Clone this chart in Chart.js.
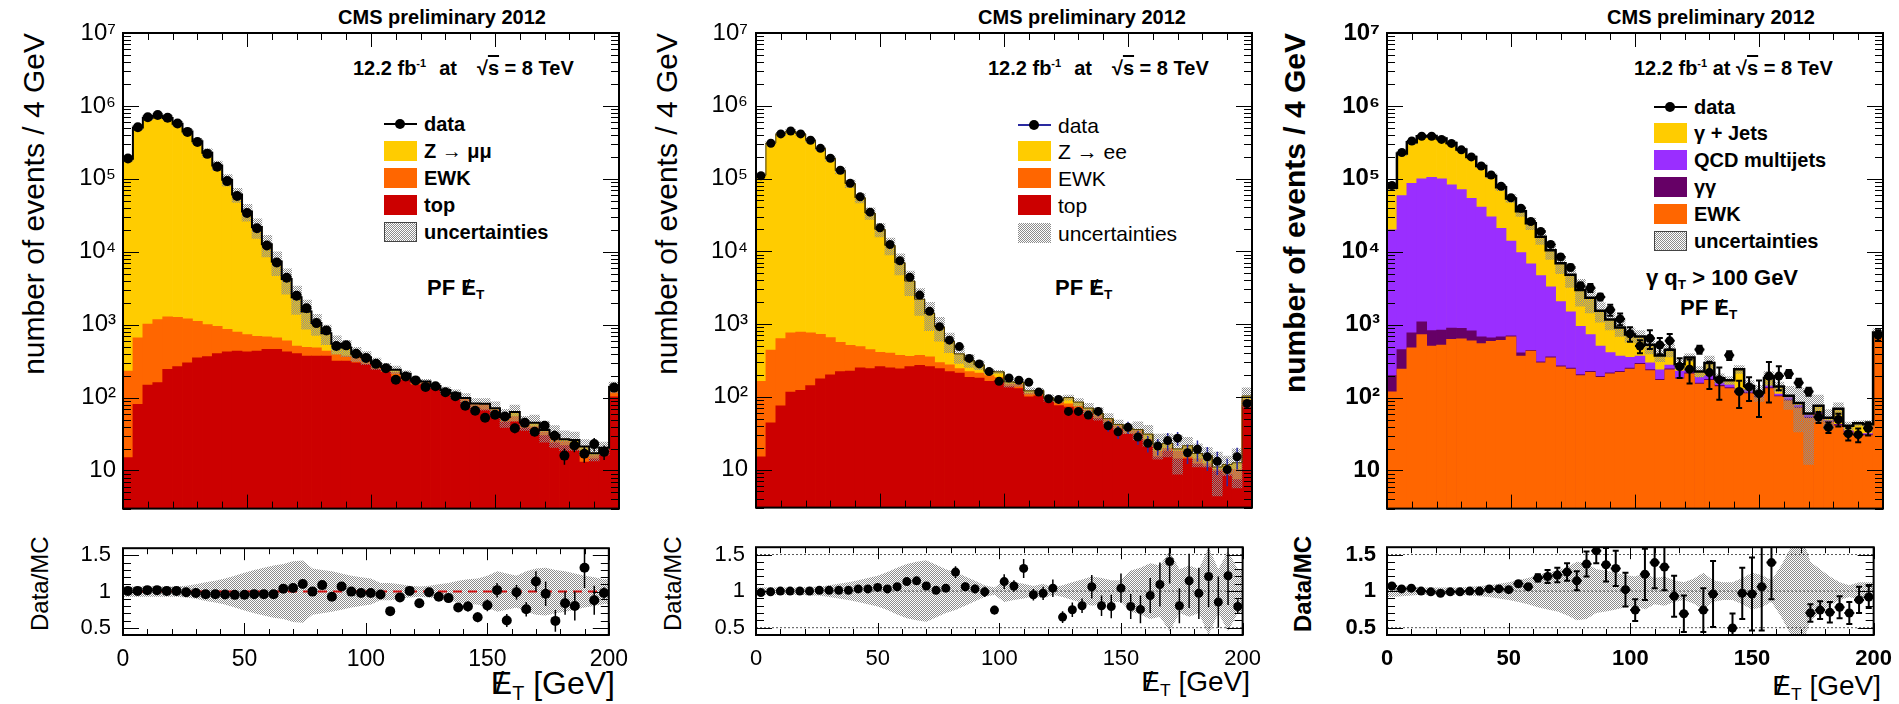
<!DOCTYPE html>
<html>
<head>
<meta charset="utf-8">
<title>PF MET: Z→μμ, Z→ee, γ+jets</title>
<script src="https://cdn.jsdelivr.net/npm/chart.js@4.4.1/dist/chart.umd.min.js"></script>
<style>
body{margin:0;background:#fff;width:1899px;height:704px;overflow:hidden;position:relative;font-family:"Liberation Sans",Arial,Helvetica,sans-serif;color:#000}
.clip{position:absolute;top:0;height:704px;overflow:hidden}
.clip canvas{position:absolute}
.t{position:absolute;white-space:nowrap;line-height:1}
.b{font-weight:bold}
.c{transform:translateX(-50%)}
.vt{position:absolute;writing-mode:vertical-rl;transform:rotate(180deg);white-space:nowrap;line-height:1;text-align:center}
.met{position:relative;display:inline-block}
.met:after{content:"/";position:absolute;left:.14em;top:0;font-weight:normal}
sub{font-size:.62em;vertical-align:-.3em;line-height:0}
sup{font-size:.55em;vertical-align:.75em;line-height:0}
.ov{text-decoration:overline}
.leg{position:absolute;height:20px;display:flex;align-items:center;white-space:nowrap;line-height:1}
.sw{width:33px;height:20px;margin-right:7px;box-sizing:border-box;flex:none}
.hatch{background:repeating-conic-gradient(#8c8c8c 0 25%,#ffffff 0 50%) 0 0/2px 2px}
.mk{width:33px;height:20px;margin-right:7px;position:relative;flex:none}
.mk:before{content:"";position:absolute;left:0;right:0;top:9px;height:2px;background:var(--lc,#000)}
.mk:after{content:"";position:absolute;left:11px;top:5px;width:10px;height:10px;border-radius:50%;background:#000}
</style>
</head>
<body>

<!-- panel 1 : Z -> mumu -->
<div class="t b c" style="left:442px;top:7px;font-size:20px">CMS preliminary 2012</div>
<div class="t b" style="left:353px;top:58px;font-size:20px">12.2 fb<sup>-1</sup><span style="margin-left:13px">at</span><span style="margin-left:20px">√<span class="ov">s</span> = 8 TeV</span></div>
<div class="leg b" style="left:384px;top:114px;font-size:20px"><div class="mk"></div>data</div>
<div class="leg b" style="left:384px;top:141px;font-size:20px"><div class="sw" style="background:#ffcc00"></div>Z → μμ</div>
<div class="leg b" style="left:384px;top:168px;font-size:20px"><div class="sw" style="background:#ff6600"></div>EWK</div>
<div class="leg b" style="left:384px;top:195px;font-size:20px"><div class="sw" style="background:#cc0000"></div>top</div>
<div class="leg b" style="left:384px;top:222px;font-size:20px"><div class="sw hatch" style="border:1px solid #444"></div>uncertainties</div>
<div class="t b" style="left:427px;top:277px;font-size:22px">PF <span class="met">E</span><sub>T</sub></div>
<div class="vt" style="left:19px;top:33px;font-size:30px">number of events / 4 GeV</div>
<div class="vt" style="left:28px;top:533px;height:102px;font-size:24px">Data/MC</div>
<div class="t" style="right:1284px;top:667px;font-size:32px"><span class="met">E</span><sub>T</sub> [GeV]</div>

<!-- panel 2 : Z -> ee -->
<div class="t b c" style="left:1082px;top:7px;font-size:20px">CMS preliminary 2012</div>
<div class="t b" style="left:988px;top:58px;font-size:20px">12.2 fb<sup>-1</sup><span style="margin-left:13px">at</span><span style="margin-left:20px">√<span class="ov">s</span> = 8 TeV</span></div>
<div class="leg" style="left:1018px;top:115px;font-size:21px"><div class="mk" style="--lc:#2a2aa0"></div>data</div>
<div class="leg" style="left:1018px;top:141px;font-size:21px"><div class="sw" style="background:#ffcc00"></div>Z → ee</div>
<div class="leg" style="left:1018px;top:168px;font-size:21px"><div class="sw" style="background:#ff6600"></div>EWK</div>
<div class="leg" style="left:1018px;top:195px;font-size:21px"><div class="sw" style="background:#cc0000"></div>top</div>
<div class="leg" style="left:1018px;top:223px;font-size:21px"><div class="sw hatch"></div>uncertainties</div>
<div class="t b" style="left:1055px;top:277px;font-size:22px">PF <span class="met">E</span><sub>T</sub></div>
<div class="vt" style="left:652px;top:33px;font-size:30px">number of events / 4 GeV</div>
<div class="vt" style="left:661px;top:533px;height:102px;font-size:24px">Data/MC</div>
<div class="t" style="right:649px;top:668px;font-size:28px"><span class="met">E</span><sub>T</sub> [GeV]</div>

<!-- panel 3 : gamma + jets -->
<div class="t b c" style="left:1711px;top:7px;font-size:20px">CMS preliminary 2012</div>
<div class="t b" style="left:1634px;top:58px;font-size:20px">12.2 fb<sup>-1</sup> at √<span class="ov">s</span> = 8 TeV</div>
<div class="leg b" style="left:1654px;top:97px;font-size:20px"><div class="mk"></div>data</div>
<div class="leg b" style="left:1654px;top:123px;font-size:20px"><div class="sw" style="background:#ffcc00"></div>γ + Jets</div>
<div class="leg b" style="left:1654px;top:150px;font-size:20px"><div class="sw" style="background:#9a2eff"></div>QCD multijets</div>
<div class="leg b" style="left:1654px;top:177px;font-size:20px"><div class="sw" style="background:#660066"></div>γγ</div>
<div class="leg b" style="left:1654px;top:204px;font-size:20px"><div class="sw" style="background:#ff6600"></div>EWK</div>
<div class="leg b" style="left:1654px;top:231px;font-size:20px"><div class="sw hatch" style="border:1px solid #444"></div>uncertainties</div>
<div class="t b" style="left:1646px;top:267px;font-size:22px">γ q<sub>T</sub> &gt; 100 GeV</div>
<div class="t b" style="left:1680px;top:297px;font-size:22px">PF <span class="met">E</span><sub>T</sub></div>
<div class="vt b" style="left:1280px;top:33px;font-size:30px">number of events / 4 GeV</div>
<div class="vt b" style="left:1291px;top:533px;height:102px;font-size:24px">Data/MC</div>
<div class="t" style="right:18px;top:672px;font-size:28px"><span class="met">E</span><sub>T</sub> [GeV]</div>

<script>
// --- binning and axis ticks ---
const binCenters = [2,6,10,14,18,22,26,30,34,38,42,46,50,54,58,62,66,70,74,78,82,86,90,94,98,
                    102,106,110,114,118,122,126,130,134,138,142,146,150,154,158,162,166,170,174,178,182,186,190,194,198];
const binWidth = 4;
const mainTicks = [10, 100, 1e3, 1e4, 1e5, 1e6, 1e7];
const mainTickLabels = ['10', '10²', '10³', '10⁴', '10⁵', '10⁶', '10⁷'];
const ratioTicks = [0.5, 1, 1.5];
const ratioTickLabels = ['0.5', '1', '1.5'];
const xTicks = [0, 50, 100, 150, 200];
const refLines = [0.5, 1, 1.5];

// --- Z -> mumu ---
const p1Data = [1.9e5,5.1e5,7.0e5,7.5e5,6.9e5,5.75e5,4.4e5,3.2e5,2.2e5,1.47e5,
                9.3e4,5.8e4,3.4e4,2.1e4,1.22e4,7100,4400,2500,1680,1050,
                830,510,520,400,350,290,252,176,195,172,
                140,143,118,104,77,66,53,58,55,38,
                45,34,41,30,16,22,17,23,18,137];
const p1Ratio = [1.01,1.01,1.02,1.02,1.01,1.01,0.99,0.98,0.965,0.965,
                 0.96,0.955,0.957,0.965,0.965,0.965,1.04,1.05,1.105,1.0,
                 1.09,0.93,1.07,1.0,0.98,0.98,0.96,0.73,0.92,1.01,
                 0.84,0.99,0.93,0.91,0.78,0.795,0.645,0.81,1.02,0.6,
                 0.99,0.755,1.14,0.97,0.595,0.84,0.80,1.33,0.88,0.98];
const p1RatioErr = [0.01,0.01,0.01,0.01,0.01,0.01,0.01,0.01,0.01,0.01,
                    0.01,0.01,0.01,0.01,0.01,0.01,0.01,0.01,0.01,0.01,
                    0.015,0.02,0.02,0.025,0.025,0.03,0.03,0.04,0.04,0.06,
                    0.05,0.05,0.06,0.06,0.06,0.07,0.07,0.08,0.1,0.09,
                    0.1,0.1,0.14,0.17,0.15,0.16,0.2,0.28,0.2,0.08];
const p1Unc = [0.07,0.07,0.07,0.07,0.07,0.07,0.08,0.10,0.13,0.15,
               0.18,0.22,0.26,0.30,0.33,0.36,0.38,0.42,0.43,0.32,
               0.30,0.28,0.25,0.22,0.20,0.18,0.12,0.12,0.10,0.08,
               0.07,0.08,0.10,0.12,0.15,0.17,0.18,0.22,0.28,0.25,
               0.22,0.28,0.32,0.33,0.30,0.28,0.25,0.22,0.20,0.17];
const p1Top = [15,81,148,160,243,266,300,350,365,400,
               425,435,425,435,460,460,425,400,370,370,
               370,316,316,300,285,245,222,190,172,150,
               153,132,112,100,86,72,68,62,46,47,
               38,35,30,24,22,19,13,14.5,17,102];
const p1TopEwk = [230,660,1020,1170,1280,1260,1200,1110,1000,950,
                  860,790,730,690,680,660,600,510,490,480,
                  435,390,370,355,340,275,245,222,205,165,
                  164,140,122,108,95,80,80,68,51,55,
                  43,40,34,28,25,23,16,16,19,120];

// --- Z -> ee ---
const p2Data = [1.09e5,3.05e5,4.1e5,4.5e5,4.1e5,3.36e5,2.6e5,1.9e5,1.3e5,8.6e4,
                5.6e4,3.45e4,2.1e4,1.24e4,7400,4400,2500,1500,920,600,
                490,337,283,222,163,181,169,158,116,94,
                92,63,63,56,63,40,33,38,28,23,
                21,25,27,17,19,15,13,10,15,81];
const p2Ratio = [0.98,0.99,1.0,1.0,1.0,1.0,1.01,1.01,1.01,1.01,
                 1.03,1.03,1.05,1.03,1.06,1.13,1.14,1.07,1.01,1.04,
                 1.26,1.06,1.03,0.99,0.74,1.13,1.07,1.31,0.95,0.97,
                 1.04,0.645,0.745,0.80,1.06,0.80,0.79,1.04,0.79,0.75,
                 0.94,1.09,1.405,0.80,1.14,0.97,1.2,0.85,1.21,0.79];
const p2RatioErr = [0.01,0.01,0.01,0.01,0.01,0.01,0.01,0.01,0.01,0.01,
                    0.01,0.01,0.01,0.01,0.01,0.02,0.02,0.03,0.03,0.04,
                    0.08,0.06,0.06,0.07,0.06,0.1,0.08,0.13,0.08,0.09,
                    0.12,0.08,0.1,0.1,0.16,0.14,0.16,0.2,0.17,0.19,
                    0.24,0.3,0.3,0.24,0.37,0.35,0.42,0.35,0.4,0.1];
const p2Unc = [0.05,0.05,0.05,0.05,0.05,0.06,0.06,0.08,0.10,0.12,
               0.15,0.18,0.21,0.26,0.32,0.37,0.40,0.42,0.36,0.30,
               0.26,0.20,0.14,0.08,0.05,0.15,0.12,0.10,0.07,0.10,
               0.05,0.08,0.12,0.16,0.20,0.18,0.15,0.15,0.28,0.32,
               0.38,0.35,0.55,0.30,0.35,0.30,0.60,0.30,0.55,0.30];
const p2Top = [15,44,75,116,123,143,176,200,222,225,
               251,245,260,250,243,260,270,260,245,222,
               211,185,181,163,167,138,130,100,103,86,
               76,72,66,58,50,43,36,31,30,21,
               15,18,14,14,12,11,9.5,8.5,7.3,75];
const p2TopEwk = [163,437,630,760,775,760,720,650,560,510,
                  490,445,408,400,370,360,370,355,295,275,
                  245,222,211,195,185,150,148,112,116,94,
                  84,80,74,65,55,48,40,34,34,26,
                  18,19.5,18,15,14,12,10,10,10,90];

// --- gamma + jets ---
const p3Data = [8.1e4,2.3e5,3.3e5,3.84e5,3.84e5,3.47e5,3.06e5,2.5e5,2.0e5,1.5e5,
                1.13e5,7.9e4,5.5e4,3.95e4,2.6e4,1.9e4,1.26e4,8500,6100,3400,
                3200,2400,1600,1200,750,510,650,525,600,266,
                245,455,220,176,380,121,140,113,197,197,
                212,160,121,54,39,50,32,31,38,720];
const p3Ratio = [1.07,1.03,1.04,1.0,0.99,0.97,0.99,0.99,1.0,1.0,
                 1.03,1.03,1.02,1.1,1.06,1.18,1.2,1.22,1.26,1.14,
                 1.37,1.55,1.36,1.31,1.02,0.74,1.23,1.39,1.33,0.93,
                 0.69,2.0,0.74,0.96,2.2,0.495,0.97,0.96,1.06,1.39,
                 2.0,1.9,2.0,0.70,0.74,0.71,0.78,0.70,0.88,0.92];
const p3RatioErr = [0.015,0.015,0.015,0.015,0.015,0.015,0.015,0.015,0.015,0.015,
                    0.015,0.015,0.015,0.03,0.03,0.05,0.09,0.1,0.12,0.13,
                    0.17,0.17,0.23,0.24,0.23,0.15,0.35,0.35,0.32,0.28,
                    0.25,0.25,0.3,0.45,0.3,0.2,0.35,0.5,0.6,0.5,
                    0.25,0.25,0.25,0.12,0.12,0.14,0.15,0.15,0.18,0.15];
const p3Unc = [0.08,0.07,0.06,0.05,0.05,0.05,0.05,0.05,0.06,0.07,
               0.08,0.10,0.12,0.15,0.18,0.22,0.25,0.28,0.33,0.40,
               0.38,0.30,0.28,0.25,0.22,0.20,0.25,0.18,0.20,0.15,
               0.12,0.17,0.25,0.15,0.12,0.12,0.18,0.25,0.22,0.15,
               0.35,0.60,0.80,0.40,0.30,0.20,0.12,0.08,0.12,0.12];
const p3Ewk = [120,245,480,730,510,525,630,640,600,550,
               590,610,680,370,435,300,350,263,245,200,
               222,190,211,222,245,285,235,172,240,180,
               211,153,172,142,133,113,113,100,133,103,
               90,72,52,59,46,41,33,30,30,730];
const p3EwkGg = [200,455,775,1090,830,840,900,890,820,680,
                 660,680,700,410,445,310,362,272,253,207,
                 229,196,218,229,253,294,242,178,247,186,
                 218,158,178,147,137,117,117,103,137,106,
                 93,74,54,61,47.5,42.5,34,31,31,745];
const p3EwkGgQcd = [2.0e4,5.9e4,8.7e4,1.0e5,1.05e5,1.0e5,8.3e4,7.1e4,5.4e4,4.1e4,
                    3.0e4,2.1e4,1.4e4,9700,6800,4700,3300,2070,1500,950,
                    730,510,415,370,355,370,300,240,280,230,
                    240,190,200,160,150,128,125,110,145,112,
                    100,78,58,62,48,43,35,31,32,760];

const YELLOW = '#ffcc00', ORANGE = '#ff6600', RED = '#cc0000', PURPLE = '#9a2eff', DPURPLE = '#660066';

Chart.defaults.font.family = '"Liberation Sans", Arial, Helvetica, sans-serif';
Chart.defaults.color = '#000';

// tick marks inside the frame + the frame itself
const framePlugin = {
  id: 'frame',
  afterDatasetsDraw(chart, args, o) {
    const { ctx, chartArea: a } = chart;
    const x = chart.scales.x, y = chart.scales.y;
    ctx.save();
    ctx.strokeStyle = '#000';
    ctx.lineWidth = 1;
    ctx.beginPath();
    for (let v = x.min; v <= x.max + 1e-9; v += o.xStep) {
      const px = Math.round(x.getPixelForValue(v)) + 0.5;
      const len = Math.abs(v % o.xMajor) < 1e-9 ? o.xMaj : o.xMin;
      ctx.moveTo(px, a.bottom); ctx.lineTo(px, a.bottom - len);
      ctx.moveTo(px, a.top); ctx.lineTo(px, a.top + len);
    }
    const yt = [];
    if (o.log) {
      for (let e = Math.floor(Math.log10(y.min)); e <= Math.ceil(Math.log10(y.max)); e++)
        for (let m = 1; m < 10; m++) {
          const v = m * Math.pow(10, e);
          if (v >= y.min && v <= y.max) yt.push([v, m === 1]);
        }
    } else {
      for (let k = Math.ceil(y.min / o.yStep - 1e-9); k * o.yStep <= y.max + 1e-9; k++) {
        const v = k * o.yStep, r = v / o.yMajor;
        yt.push([v, Math.abs(r - Math.round(r)) < 1e-6]);
      }
    }
    yt.forEach(([v, major]) => {
      const py = Math.round(y.getPixelForValue(v)) + 0.5;
      const len = major ? o.yMaj : o.yMin;
      ctx.moveTo(a.left, py); ctx.lineTo(a.left + len, py);
      ctx.moveTo(a.right, py); ctx.lineTo(a.right - len, py);
    });
    ctx.stroke();
    ctx.lineWidth = o.lw;
    ctx.strokeRect(a.left, a.top, a.right - a.left, a.bottom - a.top);
    ctx.restore();
  }
};
Chart.register(framePlugin);

function hatchPattern() {
  const c = document.createElement('canvas');
  c.width = c.height = 2;
  const g = c.getContext('2d');
  g.fillStyle = '#8c8c8c';
  g.fillRect(0, 0, 1, 1);
  g.fillRect(1, 1, 1, 1);
  return g.createPattern(c, 'repeat');
}
const hatch = hatchPattern();

function canvasAt(parent, left, top, w, h) {
  const c = document.createElement('canvas');
  c.width = w; c.height = h;
  c.style.cssText = `left:${left}px;top:${top}px;width:${w}px;height:${h}px`;
  parent.appendChild(c);
  return c;
}

const panels = [
  { left: 123, right: 619, clipL: 0, clipR: 632, data: p1Data, ratio: p1Ratio, ratioErr: p1RatioErr, unc: p1Unc,
    layers: [[p1Top, RED], [p1TopEwk, ORANGE], ['total', YELLOW]],
    bold: false, outline: ['#000', 2], err: '#000', rErr: '#000', errW: 1.5, dot: 5, rDot: 5, ref: 'red',
    xerr: false, yPad: 7, rPad: 12, xSize: 23 },
  { left: 756, right: 1252, clipL: 632, clipR: 1262, data: p2Data, ratio: p2Ratio, ratioErr: p2RatioErr, unc: p2Unc,
    layers: [[p2Top, RED], [p2TopEwk, ORANGE], ['total', YELLOW]],
    bold: false, outline: ['#4a3a00', 1], err: '#2a2aa0', rErr: '#000', errW: 1.5, dot: 4.5, rDot: 4.5, ref: 'dots',
    xerr: false, yPad: 8, rPad: 11, xSize: 22 },
  { left: 1387, right: 1883, clipL: 1262, clipR: 1899, data: p3Data, ratio: p3Ratio, ratioErr: p3RatioErr, unc: p3Unc,
    layers: [[p3Ewk, ORANGE], [p3EwkGg, DPURPLE], [p3EwkGgQcd, PURPLE], ['total', YELLOW]],
    bold: true, outline: ['#000', 2.5], err: '#000', rErr: '#000', errW: 2, dot: 4.5, rDot: 4.5, ref: 'dots',
    xerr: true, yPad: 7, rPad: 11, xSize: 22 }
];

function markerSets(pts, lo, hi, color) {
  // horizontal bin-width bars and error-bar caps
  const hb = { type: 'line', data: pts, showLine: false, pointStyle: 'line', pointRadius: 5,
               pointBorderWidth: 2, pointBorderColor: color, borderColor: color };
  const capLo = { type: 'line', data: lo, showLine: false, pointStyle: 'line', pointRadius: 3,
                  pointBorderWidth: 2, pointBorderColor: color, borderColor: color };
  const capHi = Object.assign({}, capLo, { data: hi });
  return [hb, capLo, capHi];
}

function buildPanel(p) {
  const total = p.data.map((d, i) => d / p.ratio[i]); // MC sum = data / (data/MC)
  const wrap = document.createElement('div');
  wrap.className = 'clip';
  wrap.style.left = p.clipL + 'px';
  wrap.style.width = (p.clipR - p.clipL) + 'px';
  document.body.appendChild(wrap);

  const yW = 110, padR = 20, w = yW + (p.right - p.left) + padR;
  const weight = p.bold ? 'bold' : 'normal';
  const common = { responsive: false, animation: false, events: [], devicePixelRatio: 1 };

  // ---------- main (log) histogram ----------
  const pts = binCenters.map((x, i) => ({ x, y: p.data[i] }));
  const eLo = binCenters.map((x, i) => ({ x, y: p.data[i] - total[i] * p.ratioErr[i] }));
  const eHi = binCenters.map((x, i) => ({ x, y: p.data[i] + total[i] * p.ratioErr[i] }));
  const errs = binCenters.map((x, i) => ({ x, y: [eLo[i].y, eHi[i].y] }));
  const band = binCenters.map((x, i) => ({ x, y: [total[i] * (1 - p.unc[i]), total[i] * (1 + p.unc[i])] }));
  const outline = [];
  binCenters.forEach((x, i) => outline.push({ x: x - binWidth / 2, y: total[i] }, { x: x + binWidth / 2, y: total[i] }));

  const mainSets = [{ type: 'line', data: pts, showLine: false, pointRadius: p.dot, pointBorderWidth: 0,
                      pointBackgroundColor: '#000', borderColor: '#000', clip: 6 }];
  if (p.xerr) mainSets.push(...markerSets(pts, eLo, eHi, '#000'));
  mainSets.push({ type: 'bar', data: errs, backgroundColor: p.err, grouped: false, maxBarThickness: p.errW, inflateAmount: 0 });
  mainSets.push({ type: 'line', data: outline, borderColor: p.outline[0], borderWidth: p.outline[1], pointRadius: 0, fill: false });
  mainSets.push({ type: 'bar', data: band, backgroundColor: hatch, grouped: false, barPercentage: 1, categoryPercentage: 1 });
  p.layers.forEach(([arr, color]) => {
    const lv = arr === 'total' ? total : arr;
    mainSets.push({ type: 'bar', data: binCenters.map((x, i) => ({ x, y: lv[i] })), backgroundColor: color,
                    grouped: false, barPercentage: 1, categoryPercentage: 1 });
  });

  new Chart(canvasAt(wrap, p.left - yW - p.clipL, 0, w, 530), {
    type: 'bar',
    data: { datasets: mainSets },
    options: Object.assign({}, common, {
      layout: { autoPadding: false, padding: { left: 0, top: 33, right: padR, bottom: 6 } },
      plugins: { legend: { display: false }, tooltip: { enabled: false },
                 frame: { log: true, xStep: 10, xMajor: 50, xMaj: 14, xMin: 7, yMaj: 16, yMin: 8, lw: 2 } },
      scales: {
        x: { type: 'linear', min: 0, max: 200, offset: false, display: false },
        y: { type: 'logarithmic', min: 3, max: 1e7,
             afterFit: s => { s.width = yW; },
             afterBuildTicks: s => { s.ticks = mainTicks.map(v => ({ value: v })); },
             ticks: { autoSkip: false, padding: p.yPad, color: '#000', font: { size: 24, weight },
                      callback: (v, i) => mainTickLabels[i] },
             grid: { display: false, drawTicks: false }, border: { display: false } }
      }
    })
  });

  // ---------- Data/MC ratio ----------
  const rpts = binCenters.map((x, i) => ({ x, y: p.ratio[i] }));
  const rLo = binCenters.map((x, i) => ({ x, y: p.ratio[i] - p.ratioErr[i] }));
  const rHi = binCenters.map((x, i) => ({ x, y: p.ratio[i] + p.ratioErr[i] }));
  const rerr = binCenters.map((x, i) => ({ x, y: [rLo[i].y, rHi[i].y] }));
  const n = binCenters.length;
  const up = [{ x: 0, y: 1 + p.unc[0] }, ...binCenters.map((x, i) => ({ x, y: 1 + p.unc[i] })), { x: 200, y: 1 + p.unc[n - 1] }];
  const dn = [{ x: 0, y: 1 - p.unc[0] }, ...binCenters.map((x, i) => ({ x, y: 1 - p.unc[i] })), { x: 200, y: 1 - p.unc[n - 1] }];

  const rSets = [{ type: 'line', data: rpts, showLine: false, pointRadius: p.rDot, pointBorderWidth: 0,
                   pointBackgroundColor: '#000', borderColor: '#000', clip: 0 }];
  if (p.xerr) markerSets(rpts, rLo, rHi, '#000').forEach(d => rSets.push(Object.assign(d, { clip: 0 })));
  rSets.push({ type: 'bar', data: rerr, backgroundColor: p.rErr, grouped: false, maxBarThickness: p.errW, inflateAmount: 0 });
  if (p.ref === 'red') {
    rSets.push({ type: 'line', data: [{ x: 0, y: 1 }, { x: 200, y: 1 }], borderColor: '#d01010', borderWidth: 2,
                 borderDash: [9, 6], pointRadius: 0, fill: false });
  } else {
    refLines.forEach(v => rSets.push({ type: 'line', data: [{ x: 0, y: v }, { x: 200, y: v }], borderColor: '#555',
                 borderWidth: 1, borderDash: [2, 2], pointRadius: 0, fill: false }));
  }
  rSets.push({ type: 'line', data: up, borderWidth: 0, pointRadius: 0, backgroundColor: hatch, fill: '+1', tension: 0 });
  rSets.push({ type: 'line', data: dn, borderWidth: 0, pointRadius: 0, fill: false, tension: 0 });

  new Chart(canvasAt(wrap, p.left - yW - p.clipL, 523, w, 162), {
    type: 'bar',
    data: { datasets: rSets },
    options: Object.assign({}, common, {
      layout: { autoPadding: false, padding: { left: 0, top: 10, right: padR, bottom: 0 } },
      plugins: { legend: { display: false }, tooltip: { enabled: false },
                 frame: { log: false, yStep: 0.1, yMajor: 0.5, xStep: 10, xMajor: 50, xMaj: 12, xMin: 6, yMaj: 16, yMin: 8, lw: 2 } },
      scales: {
        x: { type: 'linear', min: 0, max: 200, offset: false,
             afterFit: s => { s.height = 50; },
             afterBuildTicks: s => { s.ticks = xTicks.map(v => ({ value: v })); },
             ticks: { autoSkip: false, maxRotation: 0, padding: 11, color: '#000', font: { size: p.xSize, weight },
                      callback: v => String(v) },
             grid: { display: false, drawTicks: false }, border: { display: false } },
        y: { type: 'linear', min: 0.4, max: 1.6,
             afterFit: s => { s.width = yW; },
             afterBuildTicks: s => { s.ticks = ratioTicks.map(v => ({ value: v })); },
             ticks: { autoSkip: false, padding: p.rPad, color: '#000', font: { size: 22, weight },
                      callback: (v, i) => ratioTickLabels[i] },
             grid: { display: false, drawTicks: false }, border: { display: false } }
      }
    })
  });
}

panels.forEach(buildPanel);
</script>
</body>
</html>
